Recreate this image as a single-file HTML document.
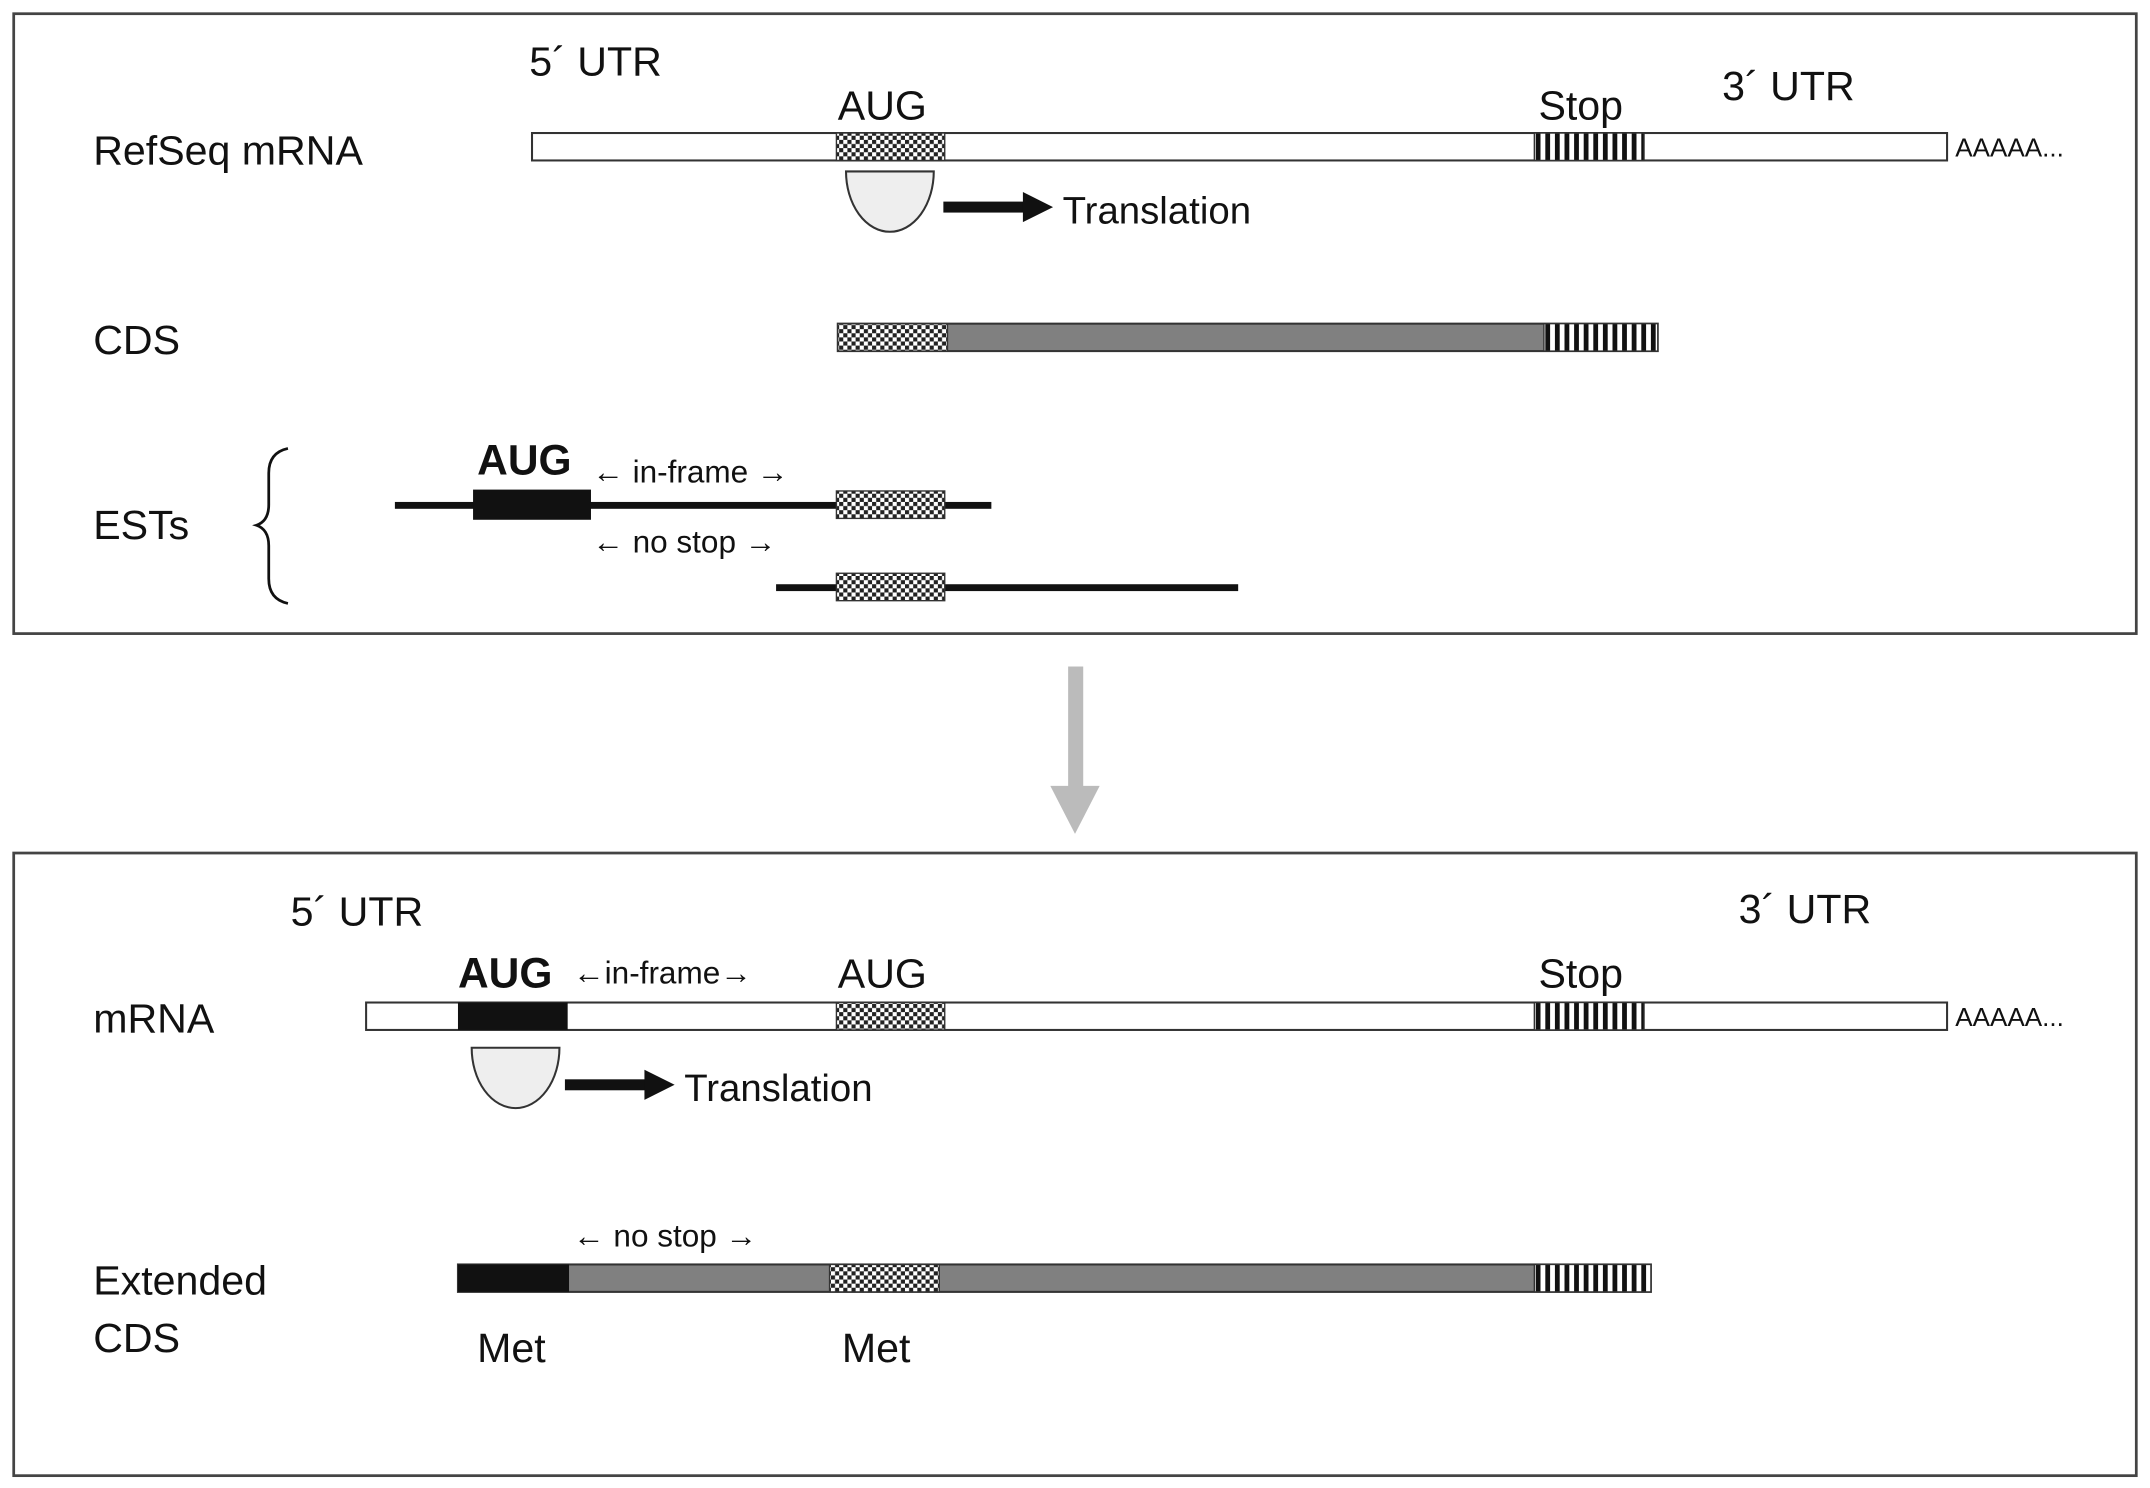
<!DOCTYPE html>
<html><head><meta charset="utf-8"><style>html,body{margin:0;padding:0;background:#fff}svg{display:block}text{font-family:"Liberation Sans",sans-serif;fill:#111}</style></head><body>
<svg width="2150" height="1488" viewBox="0 0 1568 1085" preserveAspectRatio="none" xmlns="http://www.w3.org/2000/svg">
<defs>
<pattern id="ck" width="6" height="6" patternUnits="userSpaceOnUse"><rect width="6" height="6" fill="#fff"/><rect width="3" height="3" fill="#222"/><rect x="3" y="3" width="3" height="3" fill="#222"/></pattern>
<pattern id="st" width="7" height="10" patternUnits="userSpaceOnUse"><rect width="7" height="10" fill="#fff"/><rect width="3.5" height="10" fill="#111"/></pattern>
</defs>
<rect x="10" y="10" width="1548" height="452" fill="none" stroke="#444" stroke-width="2"/>
<rect x="10" y="622" width="1548" height="454" fill="none" stroke="#444" stroke-width="2"/>
<!-- top -->
<text x="386" y="55" font-size="30">5´ UTR</text>
<text x="611" y="87" font-size="30">AUG</text>
<text x="1122" y="87" font-size="30">Stop</text>
<text x="1256" y="73" font-size="30">3´ UTR</text>
<text x="68" y="120" font-size="30">RefSeq mRNA</text>
<rect x="388" y="97" width="1032" height="20" fill="#fff" stroke="#333" stroke-width="1.5"/>
<rect x="610" y="97" width="79" height="20" fill="url(#ck)" stroke="#333" stroke-width="1"/>
<rect x="1119" y="97" width="80" height="20" fill="url(#st)" stroke="#333" stroke-width="1"/>
<text x="1426" y="114" font-size="19">AAAAA...</text>
<path d="M617 125 H681 A32 44 0 0 1 617 125 Z" fill="#eee" stroke="#333" stroke-width="1.5"/>
<rect x="688" y="147" width="60" height="8" fill="#111"/><path d="M746 140 L768 151 L746 162 Z" fill="#111"/>
<text x="775" y="163" font-size="28">Translation</text>
<text x="68" y="258" font-size="30">CDS</text>
<rect x="611" y="236" width="598" height="20" fill="#808080" stroke="#333" stroke-width="1.5"/>
<rect x="611" y="236" width="80" height="20" fill="url(#ck)" stroke="#333" stroke-width="1"/>
<rect x="1126" y="236" width="83" height="20" fill="url(#st)" stroke="#333" stroke-width="1"/>
<text x="68" y="393" font-size="30">ESTs</text>
<path d="M210 327 Q196 330 196 345 L196 368 Q196 380 187 383 Q196 386 196 398 L196 422 Q196 437 210 440" fill="none" stroke="#111" stroke-width="2"/>
<text x="348" y="346" font-size="31" font-weight="bold">AUG</text>
<text x="432" y="352" font-size="23">← in-frame →</text>
<rect x="288" y="366" width="435" height="5" fill="#111"/>
<rect x="345" y="357" width="86" height="22" fill="#111"/>
<rect x="610" y="358" width="79" height="20" fill="url(#ck)" stroke="#333" stroke-width="1"/>
<text x="432" y="403" font-size="23">←  no stop  →</text>
<rect x="566" y="426" width="337" height="5" fill="#111"/>
<rect x="610" y="418" width="79" height="20" fill="url(#ck)" stroke="#333" stroke-width="1"/>
<!-- gray arrow -->
<rect x="779" y="486" width="11" height="92" fill="#bbb"/>
<path d="M766 573 L802 573 L784 608 Z" fill="#bbb"/>
<!-- bottom -->
<text x="212" y="675" font-size="30">5´ UTR</text>
<text x="1268" y="673" font-size="30">3´ UTR</text>
<text x="334" y="720" font-size="31" font-weight="bold">AUG</text>
<text x="418" y="717" font-size="23">←in-frame→</text>
<text x="611" y="720" font-size="30">AUG</text>
<text x="1122" y="720" font-size="30">Stop</text>
<text x="68" y="753" font-size="30">mRNA</text>
<rect x="267" y="731" width="1153" height="20" fill="#fff" stroke="#333" stroke-width="1.5"/>
<rect x="334" y="731" width="80" height="20" fill="#111"/>
<rect x="610" y="731" width="79" height="20" fill="url(#ck)" stroke="#333" stroke-width="1"/>
<rect x="1119" y="731" width="80" height="20" fill="url(#st)" stroke="#333" stroke-width="1"/>
<text x="1426" y="748" font-size="19">AAAAA...</text>
<path d="M344 764 H408 A32 44 0 0 1 344 764 Z" fill="#eee" stroke="#333" stroke-width="1.5"/>
<rect x="412" y="787" width="60" height="8" fill="#111"/><path d="M470 780 L492 791 L470 802 Z" fill="#111"/>
<text x="499" y="803" font-size="28">Translation</text>
<text x="418" y="909" font-size="23">←  no stop  →</text>
<text x="68" y="944" font-size="30">Extended</text>
<text x="68" y="986" font-size="30">CDS</text>
<rect x="334" y="922" width="870" height="20" fill="#808080" stroke="#333" stroke-width="1.5"/>
<rect x="334" y="922" width="81" height="20" fill="#111"/>
<rect x="605" y="922" width="80" height="20" fill="url(#ck)" stroke="#333" stroke-width="1"/>
<rect x="1119" y="922" width="85" height="20" fill="url(#st)" stroke="#333" stroke-width="1"/>
<text x="348" y="993" font-size="30">Met</text>
<text x="614" y="993" font-size="30">Met</text>
</svg>
</body></html>
